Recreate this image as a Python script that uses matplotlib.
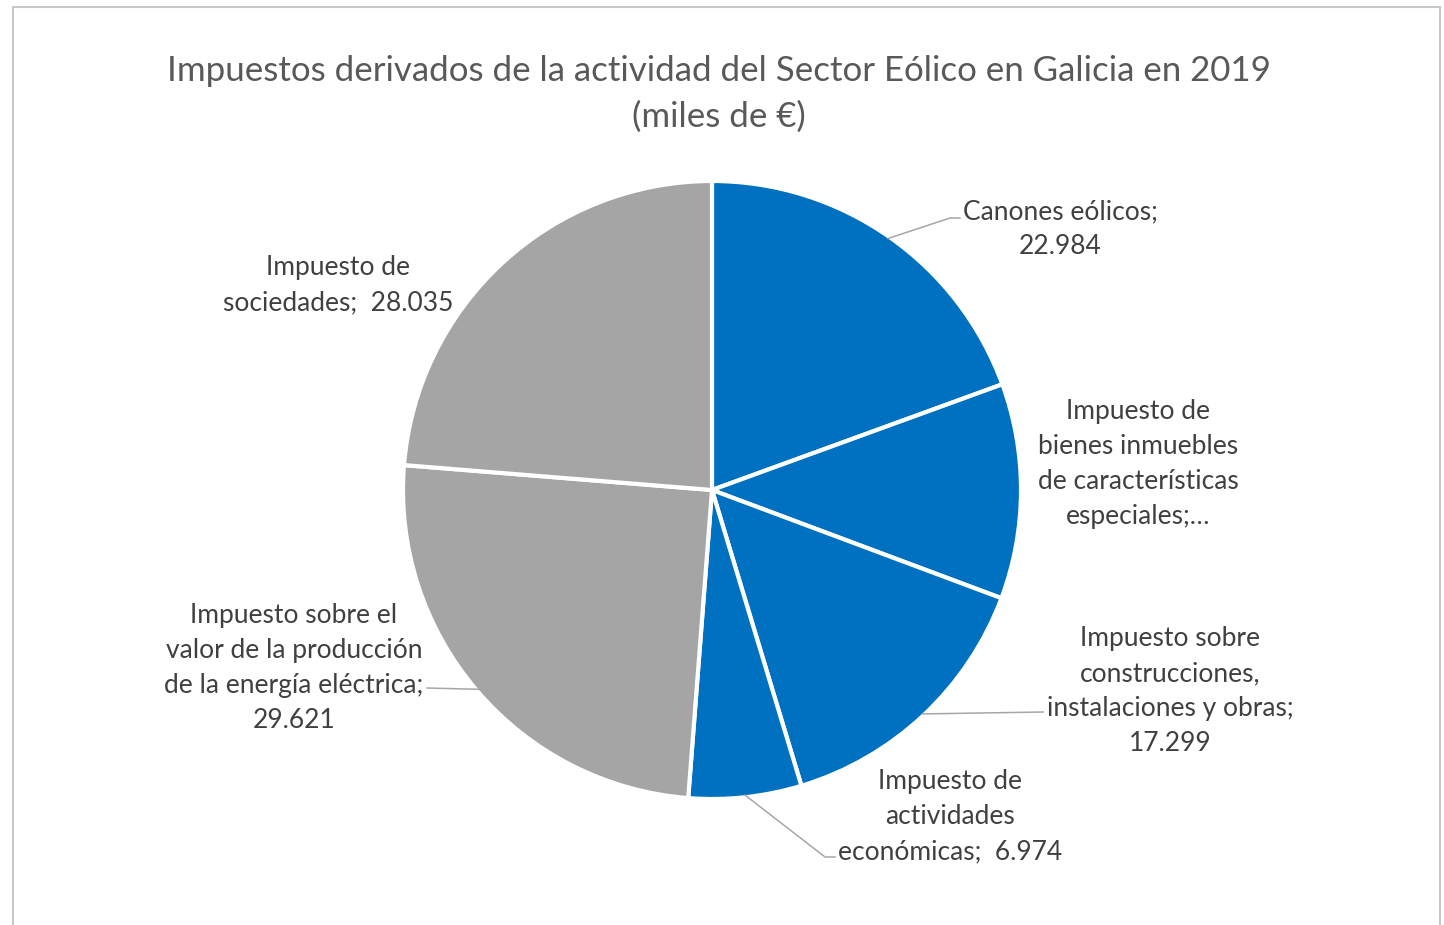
import matplotlib
matplotlib.use("Agg")
import matplotlib.pyplot as plt
import numpy as np
from matplotlib.patches import Rectangle

plt.rcParams['font.family'] = ['Lato', 'DejaVu Sans']

categories = [
    "Canones eólicos",
    "Impuesto de bienes inmuebles de características especiales",
    "Impuesto sobre construcciones, instalaciones y obras",
    "Impuesto de actividades económicas",
    "Impuesto sobre el valor de la producción de la energía eléctrica",
    "Impuesto de sociedades",
]
values = [22.984, 13.3, 17.299, 6.974, 29.621, 28.035]
label_texts = [
    "Canones eólicos;\n22.984",
    "Impuesto de\nbienes inmuebles\nde características\nespeciales;…",
    "Impuesto sobre\nconstrucciones,\ninstalaciones y obras;\n17.299",
    "Impuesto de\nactividades\neconómicas;  6.974",
    "Impuesto sobre el\nvalor de la producción\nde la energía eléctrica;\n29.621",
    "Impuesto de\nsociedades;  28.035",
]
colors = ["#0070C0", "#0070C0", "#0070C0", "#0070C0", "#A5A5A5", "#A5A5A5"]

W, H = 1444, 925
fig = plt.figure(figsize=(W / 100, H / 100), dpi=100)
ax = fig.add_axes([0, 0, 1, 1])

cx, cy, r = 712, H - 490, 309
wedges, _ = ax.pie(values, colors=colors, startangle=90, counterclock=False,
                   center=(cx, cy), radius=r,
                   wedgeprops=dict(edgecolor="white", linewidth=3))
ax.set_xlim(0, W)
ax.set_ylim(0, H)
ax.set_aspect("auto")
ax.axis("off")

# frame
fig.patches.append(Rectangle((13 / W, -0.05), (1440 - 13) / W, 1.05 - 7 / H,
                             transform=fig.transFigure, fill=False,
                             edgecolor="#C8C8C8", linewidth=1.5))

fig.text(0.5 + (719 - 722) / W, 1 - 94 / H,
         "Impuestos derivados de la actividad del Sector Eólico en Galicia en 2019\n(miles de €)",
         ha="center", va="center", fontsize=25.1, color="#595959", linespacing=1.52)

# label block centers (pixels, top-origin) and leader elbows
label_pos = [(1060, 229), (1138, 464), (1170, 691), (950, 817), (294, 668), (338, 285)]
leaders = [[(950, 218), (960, 218)], None, [(1043, 712)], [(825, 857), (835, 857)],
           [(427, 688)], None]

for w, txt, (lx, ly), ld in zip(wedges, label_texts, label_pos, leaders):
    ax.text(lx, H - ly, txt, ha="center", va="center", fontsize=19,
            color="#404040", linespacing=1.5)
    if ld is not None:
        mid = np.deg2rad((w.theta1 + w.theta2) / 2)
        sx, sy = cx + (r - 2) * np.cos(mid), cy + (r - 2) * np.sin(mid)
        xs = [sx] + [p[0] for p in ld]
        ys = [sy] + [H - p[1] for p in ld]
        ax.plot(xs, ys, color="#A6A6A6", linewidth=1.1)

fig.savefig("out.png", dpi=100, facecolor="white")
